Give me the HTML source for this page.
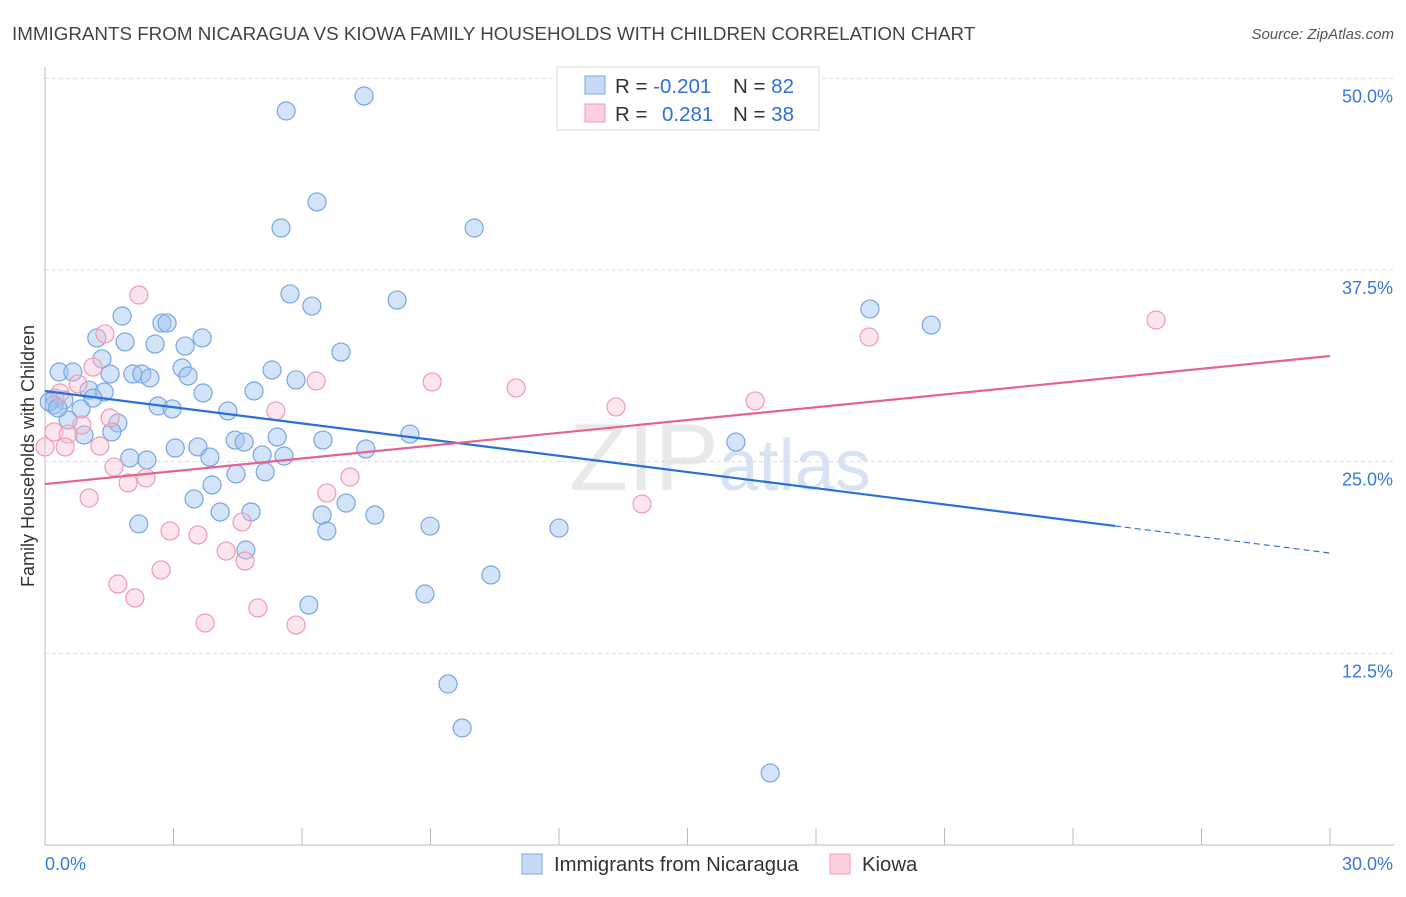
<!DOCTYPE html>
<html><head><meta charset="utf-8"><style>
body{margin:0;background:#fff;font-family:"Liberation Sans",sans-serif}
svg text{font-family:"Liberation Sans",sans-serif}
</style></head><body>
<svg id="chart" width="1406" height="892" xmlns="http://www.w3.org/2000/svg">
<text x="12" y="40" font-size="18.8" fill="#444">IMMIGRANTS FROM NICARAGUA VS KIOWA FAMILY HOUSEHOLDS WITH CHILDREN CORRELATION CHART</text>
<text x="1394" y="39" font-size="15" fill="#555" text-anchor="end" font-style="italic">Source: ZipAtlas.com</text>
<text x="720" y="490" font-size="96" fill="#d8d8d8" opacity="0.55" text-anchor="middle" font-family="Liberation Serif">ZIP<tspan fill="#b8cdea" font-family="Liberation Sans" font-size="72">atlas</tspan></text>
<g id="grid"></g>
<g id="axes"></g>
<g id="marks"></g>
<text transform="translate(34,456) rotate(-90)" font-size="18" fill="#333" text-anchor="middle">Family Households with Children</text>
<g>
<rect x="557" y="67" width="262" height="63" fill="#fff" stroke="#ddd"/>
<rect x="585" y="76" width="20" height="18" fill="#c5d9f5" stroke="#7aa7e6"/>
<rect x="585" y="104" width="20" height="18" fill="#fccfdc" stroke="#f09ab5"/>
<text x="615" y="93" font-size="20.5" fill="#333">R = <tspan fill="#2e6fd8">-0.201</tspan><tspan x="733">N = </tspan><tspan fill="#2e6fd8">82</tspan></text>
<text x="615" y="121" font-size="20.5" fill="#333">R = <tspan fill="#2e6fd8" x="662">0.281</tspan><tspan x="733">N = </tspan><tspan fill="#2e6fd8">38</tspan></text>
</g>
<g>
<rect x="522" y="854" width="20" height="20" fill="#c5d9f5" stroke="#7aa7e6"/>
<text x="554" y="871" font-size="20.3" fill="#333">Immigrants from Nicaragua</text>
<rect x="830" y="854" width="20" height="20" fill="#fccfdc" stroke="#f09ab5"/>
<text x="862" y="871" font-size="20.3" fill="#333">Kiowa</text>
</g>
</svg>
<script>
const blueX=[7.45,5.63,6.35,5.51,10.02,5.72,6.23,8.22,19.26,20.69,1.80,2.73,2.85,1.21,1.87,2.57,3.67,3.27,6.91,1.33,0.33,0.65,1.52,2.05,2.26,2.45,3.20,3.34,5.30,5.86,1.03,1.38,3.69,0.23,0.44,1.12,0.21,0.84,2.64,2.97,4.27,4.88,0.54,1.70,1.56,0.91,4.44,4.65,5.42,6.49,8.52,16.13,3.04,3.57,3.85,1.98,2.38,5.07,5.58,7.49,4.46,5.14,3.90,3.48,7.03,4.09,4.81,6.47,7.70,2.19,6.58,8.99,12.00,4.69,10.41,8.87,6.16,9.41,9.74,16.93,0.1,0.3];
const blueY=[48.85,47.87,41.94,40.24,40.24,35.94,35.15,35.54,34.96,33.91,34.50,34.04,34.04,33.07,32.81,32.67,33.07,32.54,32.15,31.70,30.85,30.85,30.72,30.72,30.72,30.46,31.11,30.59,30.98,30.33,29.67,29.54,29.48,29.15,29.02,29.15,28.70,28.44,28.63,28.44,28.31,29.61,27.72,27.52,26.94,26.74,26.41,26.28,26.61,26.41,26.80,26.28,25.89,25.96,25.30,25.24,25.11,25.44,25.37,25.83,24.20,24.33,23.48,22.57,22.30,21.72,21.72,21.52,21.52,20.94,20.48,20.80,20.67,19.24,17.61,16.37,15.65,10.50,7.63,4.70,28.9,28.5];
const pinkX=[2.19,25.94,19.24,1.40,1.12,0.77,6.33,9.04,11.00,0.35,16.58,13.33,5.39,1.52,0.86,0.21,0.54,0,0.47,1.28,1.61,2.36,1.94,7.12,1.03,6.58,13.94,4.60,2.92,3.57,4.23,4.67,2.71,1.70,2.10,4.97,3.74,5.86];
const pinkY=[35.87,34.24,33.13,33.33,31.17,30.07,30.26,30.20,29.81,29.48,28.96,28.57,28.31,27.85,27.39,26.94,26.80,25.96,25.96,26.02,24.65,23.94,23.61,24.00,22.63,22.96,22.24,21.07,20.48,20.22,19.17,18.52,17.94,17.02,16.11,15.46,14.48,14.35];
const blueTrend=[29.61,19.04];
const blueSolidEnd=24.98;
const pinkTrend=[23.54,31.89];
const yTicks=[12.5,25,37.5,50];
const yTickLabels=["12.5%","25.0%","37.5%","50.0%"];
const xTicks=[0,3,6,9,12,15,18,21,24,27,30];
const xTickLabels=["0.0%","30.0%"];
const NS="http://www.w3.org/2000/svg";
const X=v=>45+v*1285/30, Y=v=>845-v*15.333;
function mk(tag,attrs,parent){const e=document.createElementNS(NS,tag);for(const k in attrs)e.setAttribute(k,attrs[k]);parent.appendChild(e);return e;}
const grid=document.getElementById('grid'),axes=document.getElementById('axes'),marks=document.getElementById('marks');
yTicks.forEach((t,i)=>{
 const l=mk('line',{x1:45,x2:1394,y1:Y(t),y2:Y(t),stroke:'#ddd','stroke-dasharray':'4,3'},grid);
 
 
 const tx=mk('text',{x:1393,y:Y(t)+24,'font-size':18,fill:'#3a78d8','text-anchor':'end'},axes);
 tx.textContent=yTickLabels[i];
 
 
});
const ax=mk('line',{x1:45,x2:1394,y1:845,y2:845,stroke:'#bbb'},axes);


const ay=mk('line',{x1:45,x2:45,y1:67,y2:845,stroke:'#bbb'},axes);


xTicks.forEach(t=>{
 const l=mk('line',{x1:X(t),x2:X(t),y1:828,y2:845,stroke:'#bbb'},axes);
 
 
});
[[0,45,'start'],[30,1393,'end']].forEach(([t,px,a],i)=>{
 const tx=mk('text',{x:px,y:870,'font-size':18,fill:'#3a78d8','text-anchor':a},axes);
 tx.textContent=xTickLabels[i];
 
 
});
blueX.forEach((x,i)=>{
 const c=mk('circle',{cx:X(x),cy:Y(blueY[i]),r:9,fill:'rgba(160,195,240,0.45)',stroke:'#78a5e2','stroke-width':1.2},marks);
 
 
});
pinkX.forEach((x,i)=>{
 const c=mk('circle',{cx:X(x),cy:Y(pinkY[i]),r:9,fill:'rgba(250,190,210,0.4)',stroke:'#ee9ab4','stroke-width':1.2},marks);
 
 
});
const bAt=x=>blueTrend[0]+(blueTrend[1]-blueTrend[0])*x/30;
const pAt=x=>pinkTrend[0]+(pinkTrend[1]-pinkTrend[0])*x/30;
let l=mk('line',{x1:X(0),y1:Y(bAt(0)),x2:X(blueSolidEnd),y2:Y(bAt(blueSolidEnd)),stroke:'#2a6fd6','stroke-width':2.2},marks);


l=mk('line',{x1:X(blueSolidEnd),y1:Y(bAt(blueSolidEnd)),x2:X(30),y2:Y(bAt(30)),stroke:'#2a6fd6','stroke-width':1.2,'stroke-dasharray':'6,4'},marks);


l=mk('line',{x1:X(0),y1:Y(pAt(0)),x2:X(30),y2:Y(pAt(30)),stroke:'#e5638f','stroke-width':2.2},marks);


</script>
</body></html>
